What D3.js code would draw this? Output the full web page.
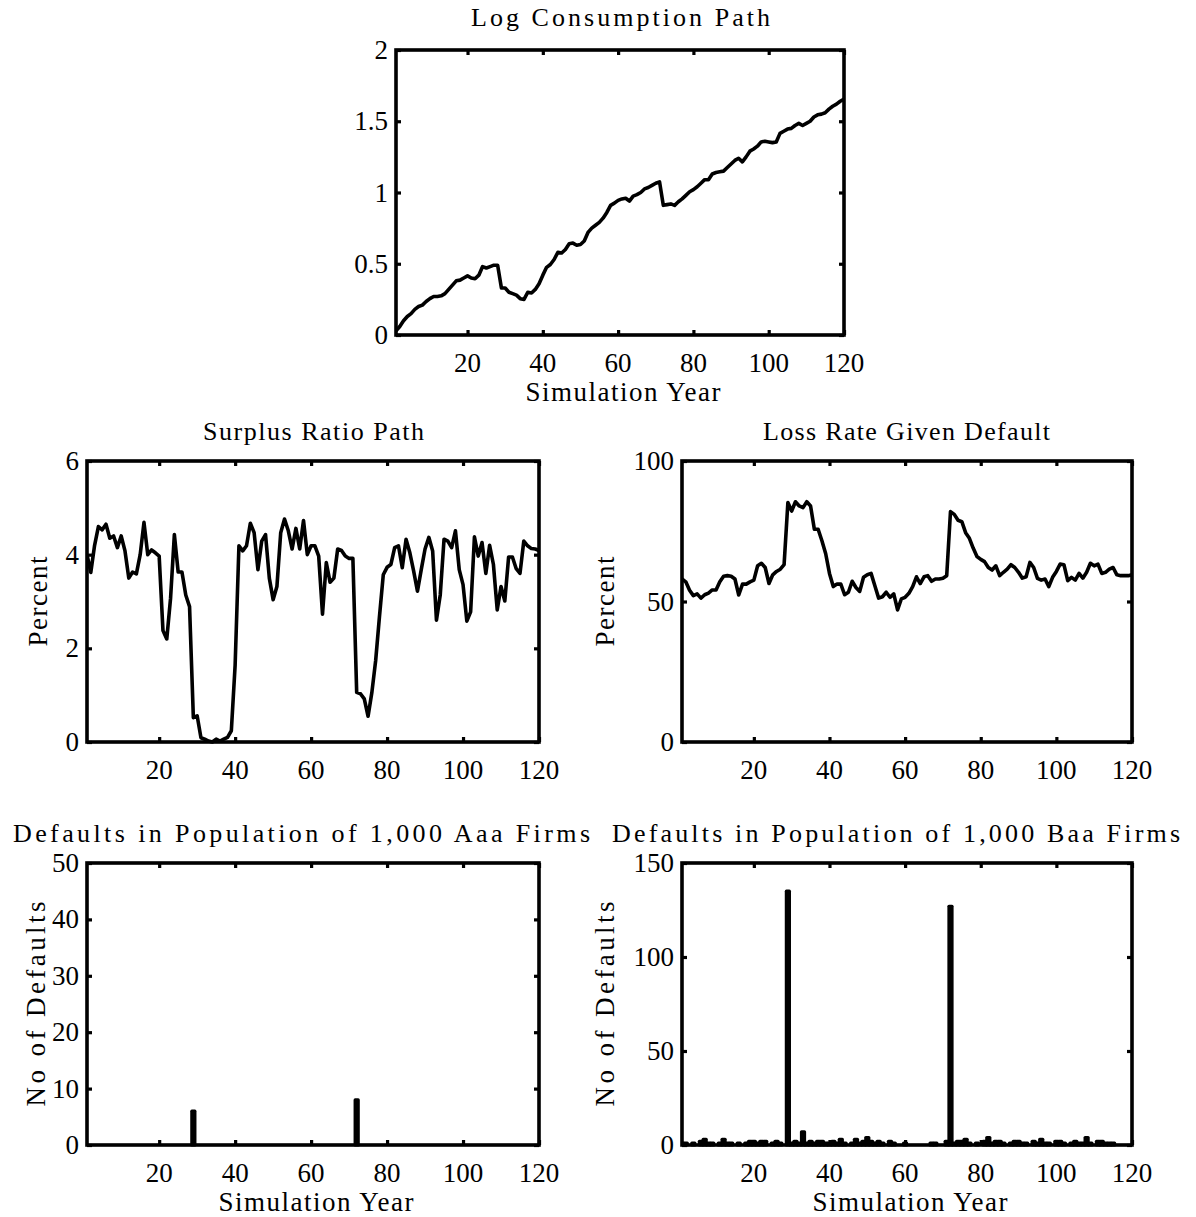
<!DOCTYPE html>
<html><head><meta charset="utf-8">
<script src="https://cdn.jsdelivr.net/npm/d3@7"></script>
<style>
body{margin:0;background:#fff}
svg{display:block}
text{font-family:"Liberation Serif","Times New Roman",serif;fill:#000}
</style>
</head><body><svg id="c" width="1196" height="1217"></svg>
<script>
// ---------------- DATA ----------------
const years = d3.range(1, 121);
const logConsumption = [
0.03,0.06,0.10,0.13,0.15,0.18,0.20,0.21,0.235,0.255,
0.27,0.27,0.275,0.29,0.32,0.35,0.38,0.385,0.40,0.415,
0.40,0.395,0.42,0.48,0.47,0.48,0.49,0.49,0.33,0.33,
0.30,0.29,0.28,0.255,0.25,0.30,0.295,0.32,0.36,0.42,
0.475,0.495,0.53,0.58,0.575,0.60,0.64,0.645,0.63,0.635,
0.66,0.72,0.75,0.77,0.79,0.82,0.86,0.91,0.925,0.945,
0.955,0.96,0.94,0.975,0.985,1.0,1.025,1.035,1.05,1.065,
1.075,0.91,0.915,0.92,0.91,0.935,0.955,0.98,1.005,1.02,
1.04,1.065,1.09,1.09,1.13,1.14,1.145,1.15,1.175,1.2,
1.225,1.24,1.215,1.25,1.29,1.305,1.325,1.355,1.36,1.355,
1.35,1.355,1.415,1.43,1.445,1.45,1.47,1.485,1.47,1.485,
1.5,1.53,1.545,1.55,1.56,1.585,1.605,1.62,1.64,1.655];
const surplusRatio = [
4.0,3.62,4.2,4.6,4.53,4.65,4.35,4.4,4.15,4.4,
4.08,3.5,3.63,3.59,4.0,4.69,4.0,4.1,4.04,3.97,
2.38,2.2,3.07,4.43,3.63,3.63,3.14,2.89,0.52,0.56,
0.09,0.06,0.02,0.0,0.06,0.02,0.06,0.1,0.24,1.64,
4.19,4.08,4.19,4.67,4.47,3.68,4.29,4.43,3.5,3.04,
3.32,4.47,4.76,4.51,4.12,4.56,4.12,4.73,4.0,4.19,
4.19,3.97,2.73,3.83,3.41,3.5,4.12,4.09,3.97,3.92,
3.92,1.06,1.03,0.92,0.55,1.06,1.74,2.68,3.57,3.73,
3.79,4.15,4.19,3.72,4.33,4.04,3.65,3.22,3.68,4.12,
4.37,4.08,2.6,3.14,4.33,4.29,4.15,4.51,3.68,3.36,
2.58,2.78,4.38,3.97,4.26,3.6,4.2,3.79,2.82,3.32,
3.01,3.95,3.95,3.7,3.6,4.29,4.19,4.13,4.12,4.09];
const lossRate = [
58,57,54,52.1,52.7,51.2,52.4,53,54.1,54.1,
57,59,59.2,59,58,52.3,56.2,56.2,57,57.6,
62.7,63.6,62.1,56.4,59.5,60.7,61.5,63.1,85.2,82.2,
85.5,84,83.4,85.5,84,75.7,75.7,71.6,67,60,
55.3,56.2,56.2,52.4,53.3,57.2,55,53.6,58.6,59.5,
60,55.6,51.2,51.7,53.3,51.5,52.7,47,50.9,51.5,
52.9,55.3,58.8,56.4,58.8,59.2,57.2,58,58,58.3,
59.2,82,81,78.9,78.4,74.5,72.5,69,66,65,
64.2,62.1,61.2,62.7,59.2,60.4,61.5,63.1,62.1,60.4,
58.3,58.8,63.9,62.1,58.2,57.6,58,55.3,58.6,60.7,
63.3,63.1,57.4,58.6,57.6,60,58.3,60.4,63.6,62.7,
63.3,60,60.4,61.5,62.1,59.5,59.2,59.2,59.2,59.5];
const aaaDefaults = [
0,0,0,0,0,0,0,0,0,0, 0,0,0,0,0,0,0,0,0,0,
0,0,0,0,0,0,0,0,6,0, 0,0,0,0,0,0,0,0,0,0,
0,0,0,0,0,0,0,0,0,0, 0,0,0,0,0,0,0,0,0,0,
0,0,0,0,0,0,0,0,0,0, 0,8,0,0,0,0,0,0,0,0,
0,0,0,0,0,0,0,0,0,0, 0,0,0,0,0,0,0,0,0,0,
0,0,0,0,0,0,0,0,0,0, 0,0,0,0,0,0,0,0,0,0];
const baaDefaults = [
1,1,0,1,0,2,3,1,1,0, 1,3,1,1,0,1,0,1,2,2,
1,2,2,0,1,2,1,0,135,1, 2,1,7,1,2,1,2,2,1,1,
2,1,3,1,0,1,3,1,2,4, 2,1,2,1,0,2,1,0,0,1,
0,0,0,0,0,0,1,1,0,0, 2,127,1,2,2,3,1,0,1,0,
2,4,1,2,2,1,0,1,2,2, 1,1,0,2,1,3,1,1,0,2,
2,1,0,1,2,1,1,4,1,0, 2,2,1,1,1,0,0,0,0,0];
const xTicks = [20, 40, 60, 80, 100, 120];
const consumptionTicks = [0, 0.5, 1, 1.5, 2];
const surplusTicks = [0, 2, 4, 6];
const lossTicks = [0, 50, 100];
const aaaTicks = [0, 10, 20, 30, 40, 50];
const baaTicks = [0, 50, 100, 150];
const titles = ["Log Consumption Path", "Surplus Ratio Path", "Loss Rate Given Default",
  "Defaults in Population of 1,000 Aaa Firms", "Defaults in Population of 1,000 Baa Firms"];
const xLabel = "Simulation Year";
const yLabels = ["Percent", "No of Defaults"];

// ---------------- DRAW ----------------
const svg = d3.select("#c");
const fmt = d => String(d);

function panel(o) {
  const x = d3.scaleLinear().domain([1, 120]).range([o.l, o.r]);
  const y = d3.scaleLinear().domain(o.yDomain).range([o.b, o.t]);
  const g = svg.append("g");
  const cid = "clip" + o.id;
  svg.append("clipPath").attr("id", cid).append("rect")
    .attr("x", o.l).attr("y", o.t - 2).attr("width", o.r - o.l).attr("height", o.b - o.t + 4);

  if (o.type === "line") {
    g.append("path").datum(o.values)
      .attr("clip-path", `url(#${cid})`)
      .attr("fill", "none").attr("stroke", "#000").attr("stroke-width", 3.6)
      .attr("stroke-linejoin", "round")
      .attr("d", d3.line().x((d, i) => x(years[i])).y(d => y(d)));
  } else {
    const bw = (x(2) - x(1)) * 0.8;
    g.append("g").attr("clip-path", `url(#${cid})`).selectAll("rect").data(o.values).join("rect")
      .attr("x", (d, i) => x(years[i]) - bw / 2)
      .attr("y", d => y(d))
      .attr("width", bw)
      .attr("height", d => y(0) - y(d))
      .attr("fill", "#000").attr("stroke", "#000").attr("stroke-width", 3.2)
      .attr("stroke-linejoin", "round");
  }

  // axes with inward ticks on all four sides
  const tl = 5;
  const axB = g.append("g").attr("transform", `translate(0,${o.b})`)
    .call(d3.axisBottom(x).tickValues(xTicks).tickSize(-tl).tickFormat(""));
  const axT = g.append("g").attr("transform", `translate(0,${o.t})`)
    .call(d3.axisTop(x).tickValues(xTicks).tickSize(-tl).tickFormat(""));
  const axL = g.append("g").attr("transform", `translate(${o.l},0)`)
    .call(d3.axisLeft(y).tickValues(o.yTicks).tickSize(-tl).tickFormat(""));
  const axR = g.append("g").attr("transform", `translate(${o.r},0)`)
    .call(d3.axisRight(y).tickValues(o.yTicks).tickSize(-tl).tickFormat(""));
  [axB, axT, axL, axR].forEach(a => {
    a.select(".domain").remove();
    a.selectAll(".tick line").attr("stroke", "#000").attr("stroke-width", 3.2);
  });
  g.append("rect").attr("x", o.l).attr("y", o.t).attr("width", o.r - o.l).attr("height", o.b - o.t)
    .attr("fill", "none").attr("stroke", "#000").attr("stroke-width", 3.6);

  // tick labels
  g.append("g").selectAll("text").data(xTicks).join("text")
    .attr("x", d => x(d)).attr("y", o.b + 37)
    .attr("text-anchor", "middle").attr("font-size", 27)
    .text(fmt);
  g.append("g").selectAll("text").data(o.yTicks).join("text")
    .attr("x", o.l - 8).attr("y", d => y(d) + 9)
    .attr("text-anchor", "end").attr("font-size", 27)
    .text(fmt);

  // title
  g.append("text").attr("x", o.tx).attr("y", o.ty).attr("text-anchor", "middle")
    .attr("font-size", 26).attr("textLength", o.tLen).attr("lengthAdjust", "spacing")
    .text(o.title);
  if (o.xl) {
    g.append("text").attr("x", (o.l + o.r) / 2 + 3).attr("y", o.b + 66).attr("text-anchor", "middle")
      .attr("font-size", 27).attr("textLength", 195).attr("lengthAdjust", "spacing")
      .text(xLabel);
  }
  if (o.yl) {
    g.append("text").attr("transform", `translate(${o.ylx},${(o.t + o.b) / 2}) rotate(-90)`)
      .attr("text-anchor", "middle").attr("font-size", 27)
      .attr("textLength", o.ylLen).attr("lengthAdjust", "spacing")
      .text(o.yl);
  }
}

panel({id: 1, type: "line", values: logConsumption, yDomain: [0, 2], yTicks: consumptionTicks,
  l: 396, r: 844, t: 50, b: 335, title: titles[0], tx: 620.5, ty: 26, tLen: 299, xl: true});
panel({id: 2, type: "line", values: surplusRatio, yDomain: [0, 6], yTicks: surplusTicks,
  l: 87, r: 539, t: 461, b: 742, title: titles[1], tx: 313.5, ty: 440, tLen: 221,
  yl: yLabels[0], ylx: 47, ylLen: 90});
panel({id: 3, type: "line", values: lossRate, yDomain: [0, 100], yTicks: lossTicks,
  l: 682, r: 1132, t: 461, b: 742, title: titles[2], tx: 906.5, ty: 440, tLen: 287,
  yl: yLabels[0], ylx: 614, ylLen: 90});
panel({id: 4, type: "bar", values: aaaDefaults, yDomain: [0, 50], yTicks: aaaTicks,
  l: 87, r: 539, t: 863, b: 1145, title: titles[3], tx: 301.5, ty: 842, tLen: 577, xl: true,
  yl: yLabels[1], ylx: 45, ylLen: 205});
panel({id: 5, type: "bar", values: baaDefaults, yDomain: [0, 150], yTicks: baaTicks,
  l: 682, r: 1132, t: 863, b: 1145, title: titles[4], tx: 896, ty: 842, tLen: 568, xl: true,
  yl: yLabels[1], ylx: 614, ylLen: 205});
</script>
</body></html>
